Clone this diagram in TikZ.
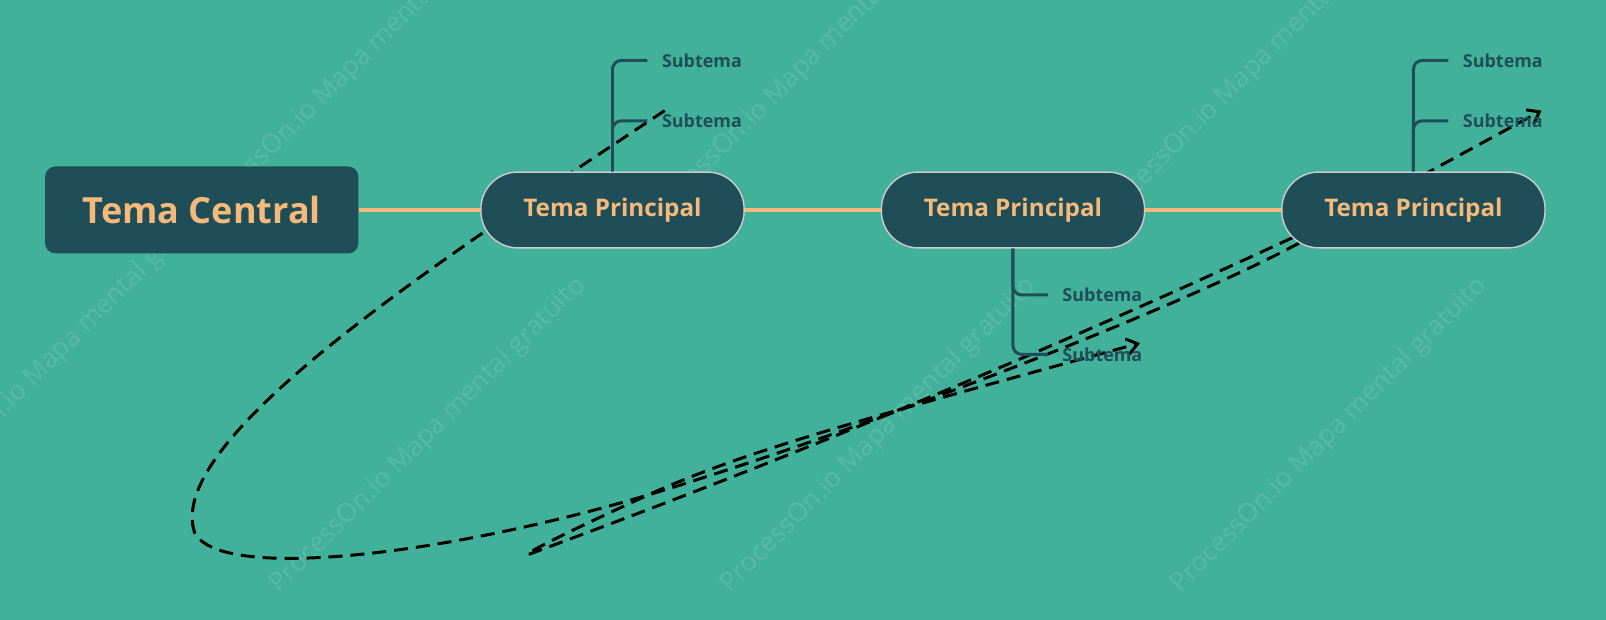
\documentclass[tikz,border=0pt]{standalone}
\usepackage{fontspec}
\setmainfont{Open Sans}
\usetikzlibrary{arrows.meta}
\definecolor{bg}{HTML}{42B19A}
\definecolor{dk}{HTML}{1F4E58}
\definecolor{og}{HTML}{F5B97A}
\tikzset{
 px/.style={x=0.02048cm,y=-0.02048cm},
 central/.style={fill=dk,rounded corners=6pt,minimum width=306*0.02048cm,minimum height=85*0.02048cm,text=og,font=\fontsize{20.5}{24}\selectfont\bfseries},
 principal/.style={fill=dk,draw=gray!40,line width=0.8pt,rounded corners=21pt,minimum width=257*0.02048cm,minimum height=74*0.02048cm,text=og,font=\fontsize{13.8}{16}\selectfont\bfseries},
 sub/.style={text=dk,font=\fontsize{10.2}{12}\selectfont\bfseries,anchor=west,inner sep=0pt},
 mainline/.style={og,line width=1.8pt},
 subline/.style={dk,line width=1.7pt,rounded corners=5pt},
 dashline/.style={black,line width=1.7pt,dash pattern=on 8pt off 4.5pt},
 wm/.style={white,opacity=0.12,rotate=45,font=\fontsize{15}{18}\selectfont}
}
\begin{document}
\begin{tikzpicture}[px]
\fill[bg] (0,0) rectangle (1568,605);
\useasboundingbox (0,0) rectangle (1568,605);
\foreach \x/\y in {345/65,62/340,418/425,858/425,1298/425,785/65,1225/65}
 \node[wm] at (\x,\y) {ProcessOn.io Mapa mental gratuito};
\coordinate (a0) at (649,108);
\coordinate (a1) at (1505,108);
\coordinate (b0) at (1262,232);
\coordinate (b1) at (1113,335);
\draw[dashline,-{Straight Barb[length=6pt,width=9pt]}] (a0) .. controls (420,260) and (160,430) .. (190,520)
  .. controls (215,570) and (450,540) .. (650,478)
  .. controls (900,400) and (1200,280) .. (1290,225) -- (a1);
\draw[dashline,-{Straight Barb[length=6pt,width=9pt]}] (b0) .. controls (900,400) and (600,510) .. (525,538)
  .. controls (495,550) and (530,530) .. (640,480) .. controls (720,445) and (800,420) .. (b1);
\node[central] (c) at (197,205) {Tema Central};
\node[principal] (p1) at (598,205) {Tema Principal};
\node[principal] (p2) at (989,205) {Tema Principal};
\node[principal] (p3) at (1380,205) {Tema Principal};
\draw[mainline] (c.east) -- (p1.west);
\draw[mainline] (p1.east) -- (p2.west);
\draw[mainline] (p2.east) -- (p3.west);
\node[sub] (s1) at (646,59) {Subtema};
\node[sub] (s2) at (646,118) {Subtema};
\node[sub] (s3) at (1037,288) {Subtema};
\node[sub] (s4) at (1037,346) {Subtema};
\node[sub] (s5) at (1428,59) {Subtema};
\node[sub] (s6) at (1428,118) {Subtema};
\draw[subline] (p1.north) |- ([xshift=-14*0.02048cm]s1.west);
\draw[subline] (p1.north) |- ([xshift=-14*0.02048cm]s2.west);
\draw[subline] (p2.south) |- ([xshift=-14*0.02048cm]s3.west);
\draw[subline] (p2.south) |- ([xshift=-14*0.02048cm]s4.west);
\draw[subline] (p3.north) |- ([xshift=-14*0.02048cm]s5.west);
\draw[subline] (p3.north) |- ([xshift=-14*0.02048cm]s6.west);
\end{tikzpicture}
\end{document}
